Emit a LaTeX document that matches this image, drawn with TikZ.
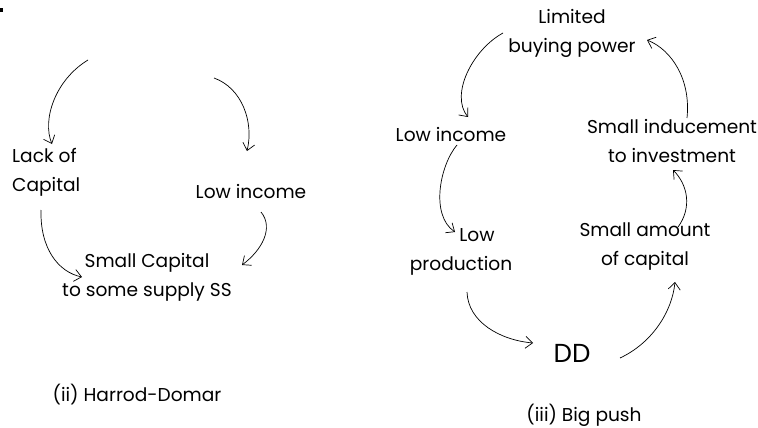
\documentclass[tikz,border=0pt]{standalone}
\usepackage{fontspec}
\setmainfont{Poppins}
\usetikzlibrary{arrows.meta}
\usetikzlibrary{positioning}

\begin{document}
\begin{tikzpicture}[x=1pt, y=-1pt,
    txtnode/.style={inner sep=0pt, align=center, font=\fontsize{18.6}{29}\selectfont},
    flow/.style={-{Straight Barb[length=7pt, width=12pt]}, line width=0.7pt}]
        \useasboundingbox (0,0) rectangle (758,428);
        \fill (0,8) rectangle (3,12);

        % (ii) Harrod-Domar
        \node[txtnode, align=left, anchor=west] (lack) at (12,172) {Lack of\\Capital};
        \node[txtnode] (lowinc) at (251,192) {Low income};
        \node[txtnode] (smallcap) at (147,277) {Small Capital\\to some supply SS};
        \node[txtnode] (hd) at (137,395) {(ii) Harrod-Domar};

        \coordinate (a1) at (88,60);   \coordinate (a2) at (52,144);
        \coordinate (b1) at (214,78);  \coordinate (b2) at (247,151);
        \coordinate (c1) at (41,210);  \coordinate (c2) at (82,277);
        \coordinate (d1) at (261,212); \coordinate (d2) at (242,265);

        \draw[flow] (a1) .. controls (55,80) and (42,120) .. (a2);
        \draw[flow] (b1) .. controls (242,88) and (254,122) .. (b2);
        \draw[flow] (c1) .. controls (40,248) and (58,272) .. (c2);
        \draw[flow] (d1) .. controls (274,228) and (262,250) .. (d2);

        % (iii) Big push
        \node[txtnode] (lbp) at (572,33) {Limited\\buying power};
        \node[txtnode] (linc) at (451,135) {Low income};
        \node[txtnode] (sind) at (672,141) {Small inducement\\to investment};
        \node[txtnode] (lprod) at (461,252) {\hspace*{32pt}Low\\production};
        \node[txtnode] (samt) at (645,247) {Small amount\\of capital};
        \node[txtnode, font=\fontsize{26}{30}\selectfont] (dd) at (572,353) {DD};
        \node[txtnode] (bp) at (584,415) {(iii) Big push};

        \coordinate (e1) at (503,33);  \coordinate (e2) at (468,117);
        \coordinate (f1) at (457,145); \coordinate (f2) at (455,232);
        \coordinate (g1) at (467,292); \coordinate (g2) at (533,343);
        \coordinate (h1) at (620,358); \coordinate (h2) at (675,282);
        \coordinate (i1) at (678,227); \coordinate (i2) at (673,170);
        \coordinate (j1) at (687,118); \coordinate (j2) at (647,40);

        \draw[flow] (e1) .. controls (472,50) and (450,95) .. (e2);
        \draw[flow] (f1) .. controls (440,165) and (430,215) .. (f2);
        \draw[flow] (g1) .. controls (468,322) and (500,340) .. (g2);
        \draw[flow] (h1) .. controls (652,343) and (672,312) .. (h2);
        \draw[flow] (i1) .. controls (692,208) and (688,185) .. (i2);
        \draw[flow] (j1) .. controls (691,80) and (672,50) .. (j2);
    \end{tikzpicture}
\end{document}
